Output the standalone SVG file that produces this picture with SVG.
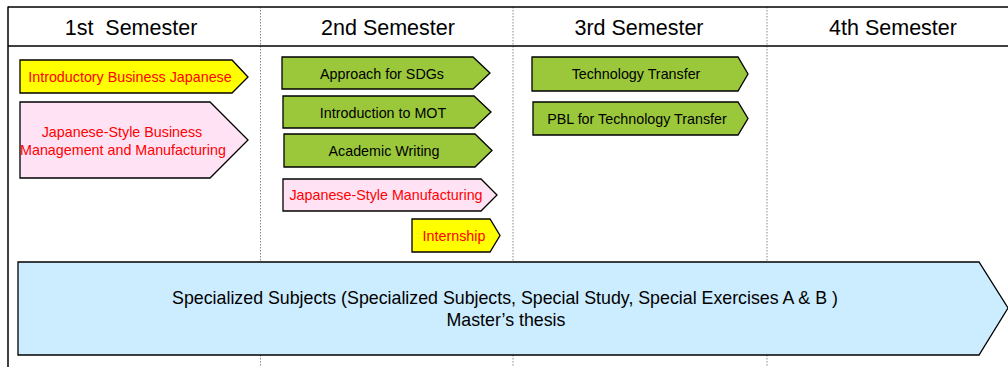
<svg xmlns="http://www.w3.org/2000/svg" width="1008" height="367" viewBox="0 0 1008 367">
<style>
text{font-family:"Liberation Sans",Arial,sans-serif;text-anchor:middle}
.hd{font-size:21.5px;fill:#000;white-space:pre}
.t{font-size:14.3px}
.big{font-size:17.8px}
.blk{fill:#000}
.red{fill:#FF0000}
.sh{stroke:#000;stroke-width:1.3;stroke-linejoin:miter}
.g{fill:#9BC83A}
.y{fill:#FFFF00}
.p{fill:#FFE3F5}
.b{fill:#CCECFF}
.dot{stroke:#888;stroke-width:1;stroke-dasharray:1.5 1.5}
</style>
<rect width="1008" height="367" fill="#fff"/>
<g id="grid">
<line class="dot" x1="260.5" y1="7" x2="260.5" y2="367"/>
<line class="dot" x1="513" y1="7" x2="513" y2="367"/>
<line class="dot" x1="767" y1="7" x2="767" y2="367"/>
<line x1="8" y1="7" x2="1008" y2="7" stroke="#000" stroke-width="1.3"/>
<line x1="8" y1="46" x2="1008" y2="46" stroke="#000" stroke-width="1.3"/>
<line x1="8" y1="6.5" x2="8" y2="367" stroke="#000" stroke-width="1.5"/>
<text class="hd" x="131" y="35">1st  Semester</text>
<text class="hd" x="388" y="35">2nd Semester</text>
<text class="hd" x="639" y="35">3rd Semester</text>
<text class="hd" x="893" y="35">4th Semester</text>
</g>
<g id="n1">
<polygon class="sh y" points="20,60 232,60 248,77 232,93 20,93"/>
<text class="t red" x="130" y="82">Introductory Business Japanese</text>
</g>
<g id="n2">
<polygon class="sh p" points="20,102 210,102 248,140 210,178 20,178"/>
<text class="t red" x="122" y="137">Japanese-Style Business</text>
<text class="t red" x="123" y="155">Management and Manufacturing</text>
</g>
<g id="n3">
<polygon class="sh g" points="282,57 473,57 490,73 473,89 282,89"/>
<text class="t blk" x="382" y="79">Approach for SDGs</text>
</g>
<g id="n4">
<polygon class="sh g" points="283,96 474,96 491,112 474,128 283,128"/>
<text class="t blk" x="383" y="118">Introduction to MOT</text>
</g>
<g id="n5">
<polygon class="sh g" points="284,134 475,134 492,150.5 475,167 284,167"/>
<text class="t blk" x="384" y="156">Academic Writing</text>
</g>
<g id="n6">
<polygon class="sh p" points="283,179 481,179 497,195 481,211 283,211"/>
<text class="t red" x="386" y="200">Japanese-Style Manufacturing</text>
</g>
<g id="n7">
<polygon class="sh y" points="412,219 490,219 500,235.5 490,252 412,252"/>
<text class="t red" x="454" y="241">Internship</text>
</g>
<g id="n8">
<polygon class="sh g" points="532,57 738,57 748,74 738,91 532,91"/>
<text class="t blk" x="636" y="79">Technology Transfer</text>
</g>
<g id="n9">
<polygon class="sh g" points="533,102 738,102 748,118.5 738,135 533,135"/>
<text class="t blk" x="637" y="124">PBL for Technology Transfer</text>
</g>
<g id="n10">
<polygon class="sh b" points="18,262 979,262 1008,308 979,355 18,355"/>
<text x="505" y="304" class="big blk">Specialized Subjects (Specialized Subjects, Special Study, Special Exercises A &amp; B )</text>
<text x="506" y="326" class="big blk">Master’s thesis</text>
</g>
<g id="connectors"/>
</svg>
